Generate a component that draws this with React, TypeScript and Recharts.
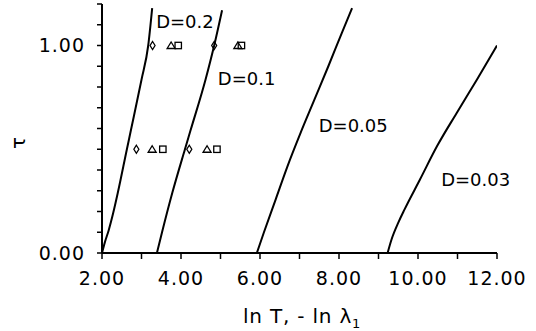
import {
  ComposedChart,
  Line,
  Scatter,
  XAxis,
  YAxis,
  ReferenceDot,
  Label,
} from "recharts";

// axis ticks
const xTicks = [2, 3, 4, 5, 6, 7, 8, 9, 10, 11, 12];
const tauTicks = [0, 0.1, 0.2, 0.3, 0.4, 0.5, 0.6, 0.7, 0.8, 0.9, 1.0, 1.1, 1.2];

// curves (x = ln T, y = tau)
const d02X = [2.0, 2.07, 2.17, 2.28, 2.4, 2.63, 2.73, 3.0, 3.17, 3.27];
const d02Tau = [0, 0.05, 0.11, 0.19, 0.29, 0.5, 0.59, 0.835, 1.0, 1.18];

const d01X = [3.39, 3.52, 3.78, 4.1, 4.24, 4.62, 4.84, 5.04];
const d01Tau = [0, 0.1, 0.29, 0.5, 0.59, 0.835, 1.0, 1.17];

const d005X = [5.92, 6.1, 6.4, 6.7, 7.03, 7.38, 7.73, 8.07, 8.33];
const d005Tau = [0, 0.1, 0.26, 0.42, 0.58, 0.74, 0.9, 1.06, 1.18];

const d003X = [9.23, 9.33, 9.51, 9.66, 10.05, 10.48, 10.98, 11.49, 12.0];
const d003Tau = [0, 0.065, 0.15, 0.21, 0.354, 0.514, 0.675, 0.835, 1.0];

// measured points (x = -ln lambda1)
const markerTau = [1.0, 1.0, 0.5, 0.5];
const diamondX = [3.28, 4.84, 2.87, 4.21];
const triangleX = [3.75, 5.44, 3.27, 4.66];
const squareX = [3.93, 5.53, 3.54, 4.91];

// curve labels
const curveNames = ["D=0.2", "D=0.1", "D=0.05", "D=0.03"];
const curveNameX = [4.1, 5.66, 8.36, 11.46];
const curveNameTau = [1.114, 0.84, 0.613, 0.356];

const FONT = "'DejaVu Sans', sans-serif";

const toRows = (xs: number[], ts: number[]) =>
  xs.map((x, i) => ({ x, tau: ts[i] }));

const curves = [
  toRows(d02X, d02Tau),
  toRows(d01X, d01Tau),
  toRows(d005X, d005Tau),
  toRows(d003X, d003Tau),
];

const Diamond = (p: any) => (
  <path
    d={`M${p.cx},${p.cy - 4}L${p.cx + 2.5},${p.cy}L${p.cx},${p.cy + 4}L${p.cx - 2.5},${p.cy}Z`}
    fill="none"
    stroke="#000"
    strokeWidth={1.3}
  />
);

const Triangle = (p: any) => (
  <path
    d={`M${p.cx},${p.cy - 3.5}L${p.cx + 4},${p.cy + 3}L${p.cx - 4},${p.cy + 3}Z`}
    fill="none"
    stroke="#000"
    strokeWidth={1.3}
  />
);

const Square = (p: any) => (
  <rect
    x={p.cx - 3.2}
    y={p.cy - 3.2}
    width={6.4}
    height={6.4}
    fill="none"
    stroke="#000"
    strokeWidth={1.3}
  />
);

const near = (a: number, b: number) => Math.abs(a - b) < 1e-6;

export default function App() {
  return (
    <div
      style={{
        position: "absolute",
        left: 0,
        top: 0,
        width: 536,
        height: 331,
        background: "#fff",
      }}
    >
      <ComposedChart
        width={536}
        height={331}
        margin={{ top: 4, right: 39, bottom: 0, left: 0 }}
      >
        <XAxis
          type="number"
          dataKey="x"
          domain={[2, 12]}
          ticks={xTicks}
          allowDataOverflow
          height={78}
          axisLine={{ stroke: "#000", strokeWidth: 2 }}
          tickLine={{ stroke: "#000", strokeWidth: 1.5 }}
          tickSize={6}
          tickMargin={13}
          tick={{ fill: "#000", fontSize: 19, fontFamily: FONT, letterSpacing: 1 }}
          tickFormatter={(v: number) => (v % 2 === 0 ? v.toFixed(2) : "")}
          interval={0}
        >
          <Label
            content={(props: any) => {
              const vb = props.viewBox;
              return (
                <text
                  x={vb.x + 200}
                  y={vb.y + 70}
                  textAnchor="middle"
                  fontSize={20}
                  letterSpacing={0.8}
                  fontFamily={FONT}
                  fill="#000"
                >
                  ln T, - ln λ
                  <tspan fontSize={13} dy={5}>
                    1
                  </tspan>
                </text>
              );
            }}
          />
        </XAxis>
        <YAxis
          type="number"
          dataKey="tau"
          domain={[0, 1.2]}
          ticks={tauTicks}
          allowDataOverflow
          width={102}
          axisLine={{ stroke: "#000", strokeWidth: 2 }}
          tickLine={{ stroke: "#000", strokeWidth: 1.5 }}
          tickSize={5}
          tickMargin={12}
          tick={{ fill: "#000", fontSize: 19, fontFamily: FONT, letterSpacing: 1 }}
          tickFormatter={(v: number) =>
            near(v, 0) || near(v, 1) ? v.toFixed(2) : ""
          }
          interval={0}
        >
          <Label
            content={(props: any) => {
              const vb = props.viewBox;
              return (
                <text
                  x={18}
                  y={vb.y + 139}
                  textAnchor="middle"
                  dominantBaseline="central"
                  fontSize={20}
                  fontFamily={FONT}
                  fill="#000"
                  transform={`rotate(-90 18 ${vb.y + 139})`}
                >
                  τ
                </text>
              );
            }}
          />
        </YAxis>

        {curves.map((rows, i) => (
          <Line
            key={curveNames[i]}
            data={rows}
            dataKey="tau"
            type="monotone"
            stroke="#000"
            strokeWidth={2}
            dot={false}
            activeDot={false}
            isAnimationActive={false}
          />
        ))}

        <Scatter
          data={toRows(diamondX, markerTau)}
          shape={<Diamond />}
          isAnimationActive={false}
        />
        <Scatter
          data={toRows(triangleX, markerTau)}
          shape={<Triangle />}
          isAnimationActive={false}
        />
        <Scatter
          data={toRows(squareX, markerTau)}
          shape={<Square />}
          isAnimationActive={false}
        />

        {curveNames.map((name, i) => (
          <ReferenceDot
            key={name}
            x={curveNameX[i]}
            y={curveNameTau[i]}
            r={0}
            stroke="none"
            fill="none"
            ifOverflow="visible"
            label={{
              value: name,
              position: "center",
              fill: "#000",
              fontSize: 18,
              fontFamily: FONT,
            }}
          />
        ))}
      </ComposedChart>
    </div>
  );
}
